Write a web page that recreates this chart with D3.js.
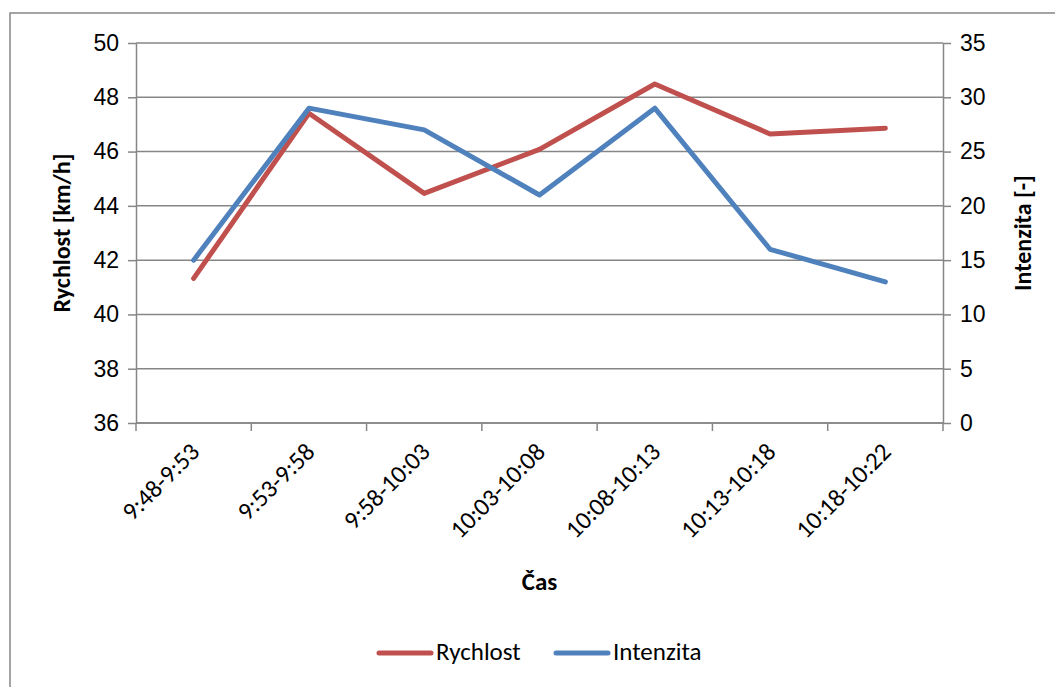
<!DOCTYPE html>
<html>
<head>
<meta charset="utf-8">
<script src="https://cdn.jsdelivr.net/npm/d3@7"></script>
<style>
  html, body { margin: 0; padding: 0; background: #fff; }
  svg { display: block; font-family: Carlito, Calibri, Lato, "Open Sans", sans-serif; }
</style>
</head>
<body>
<svg id="chart" width="1055" height="687"></svg>
<script>
// Time intervals on the x axis
const categories = ["9:48-9:53", "9:53-9:58", "9:58-10:03", "10:03-10:08", "10:08-10:13", "10:13-10:18", "10:18-10:22"];
// Speed [km/h] (left axis)
const rychlost = [41.33, 47.41, 44.46, 46.08, 48.49, 46.65, 46.86];
// Traffic intensity [-] (right axis)
const intenzita = [15, 29, 27, 21, 29, 16, 13];
// Axis tick values
const leftTicks = [36, 38, 40, 42, 44, 46, 48, 50];
const rightTicks = [0, 5, 10, 15, 20, 25, 30, 35];

const svg = d3.select("#chart");
const gridColor = "#868686";
const red = "#C0504D", blue = "#4F81BD";

const plotLeft = 136, plotRight = 943, plotTop = 43, plotBottom = 423;

// outer chart frame (right/bottom edges fall outside the view)
svg.append("rect")
  .attr("x", 10).attr("y", 13).attr("width", 1100).attr("height", 700)
  .attr("fill", "#fff").attr("stroke", gridColor).attr("stroke-width", 1.5);

const x = d3.scaleBand().domain(categories).range([plotLeft, plotRight]);
const yL = d3.scaleLinear().domain([36, 50]).range([plotBottom, plotTop]);
const yR = d3.scaleLinear().domain([0, 35]).range([plotBottom, plotTop]);

// horizontal gridlines
svg.append("g").selectAll("line").data(leftTicks).join("line")
  .attr("x1", plotLeft).attr("x2", plotRight)
  .attr("y1", d => yL(d)).attr("y2", d => yL(d))
  .attr("stroke", gridColor).attr("stroke-width", 1.5);

function styleAxis(g) {
  g.selectAll(".domain").attr("stroke", gridColor).attr("stroke-width", 1.5);
  g.selectAll(".tick line").attr("stroke", gridColor).attr("stroke-width", 1.5);
  g.selectAll(".tick text").attr("fill", "#000").style("font-size", "23px");
}

// left axis
svg.append("g").attr("transform", `translate(${plotLeft},0)`)
  .call(d3.axisLeft(yL).tickValues(leftTicks).tickSize(8).tickSizeOuter(0).tickPadding(9))
  .call(styleAxis);

// right axis
svg.append("g").attr("transform", `translate(${plotRight},0)`)
  .call(d3.axisRight(yR).tickValues(rightTicks).tickSize(8).tickSizeOuter(0).tickPadding(9))
  .call(styleAxis);

// bottom axis: ticks on band boundaries, labels centered on bands
const bottomG = svg.append("g").attr("transform", `translate(0,${plotBottom})`);
bottomG.append("line").attr("x1", plotLeft).attr("x2", plotRight)
  .attr("stroke", gridColor).attr("stroke-width", 1.5);
const bounds = categories.map(c => x(c)).concat([plotRight]);
bottomG.selectAll("line.tk").data(bounds).join("line").attr("class", "tk")
  .attr("x1", d => d).attr("x2", d => d).attr("y1", 0).attr("y2", 8)
  .attr("stroke", gridColor).attr("stroke-width", 1.5);
bottomG.selectAll("text").data(categories).join("text")
  .attr("transform", d => `translate(${x(d) + x.bandwidth() / 2 + 3},${26}) rotate(-45)`)
  .attr("text-anchor", "end")
  .attr("dominant-baseline", "middle")
  .style("font-size", "25px")
  .text(d => d);

// series lines
const lineL = d3.line().x((d, i) => x(categories[i]) + x.bandwidth() / 2).y(d => yL(d));
const lineR = d3.line().x((d, i) => x(categories[i]) + x.bandwidth() / 2).y(d => yR(d));

svg.append("path").datum(rychlost).attr("d", lineL)
  .attr("fill", "none").attr("stroke", red).attr("stroke-width", 5)
  .attr("stroke-linejoin", "round").attr("stroke-linecap", "round");
svg.append("path").datum(intenzita).attr("d", lineR)
  .attr("fill", "none").attr("stroke", blue).attr("stroke-width", 5)
  .attr("stroke-linejoin", "round").attr("stroke-linecap", "round");

// axis titles
svg.append("text")
  .attr("transform", `translate(70,${(plotTop + plotBottom) / 2}) rotate(-90)`)
  .attr("text-anchor", "middle").style("font-size", "24px").style("font-weight", "bold")
  .text("Rychlost [km/h]");
svg.append("text")
  .attr("transform", `translate(1031,${(plotTop + plotBottom) / 2}) rotate(-90)`)
  .attr("text-anchor", "middle").style("font-size", "24px").style("font-weight", "bold")
  .text("Intenzita [-]");
svg.append("text")
  .attr("x", (plotLeft + plotRight) / 2).attr("y", 590)
  .attr("text-anchor", "middle").style("font-size", "25px").style("font-weight", "bold")
  .text("Čas");

// legend
const legend = [
  { name: "Rychlost", color: red, x: 377 },
  { name: "Intenzita", color: blue, x: 554 }
];
const lg = svg.append("g");
lg.selectAll("line").data(legend).join("line")
  .attr("x1", d => d.x + 2).attr("x2", d => d.x + 54).attr("y1", 653).attr("y2", 653)
  .attr("stroke", d => d.color).attr("stroke-width", 5).attr("stroke-linecap", "round");
lg.selectAll("text").data(legend).join("text")
  .attr("x", d => d.x + 59).attr("y", 654).attr("dominant-baseline", "middle")
  .style("font-size", "25px").text(d => d.name);
</script>
</body>
</html>
